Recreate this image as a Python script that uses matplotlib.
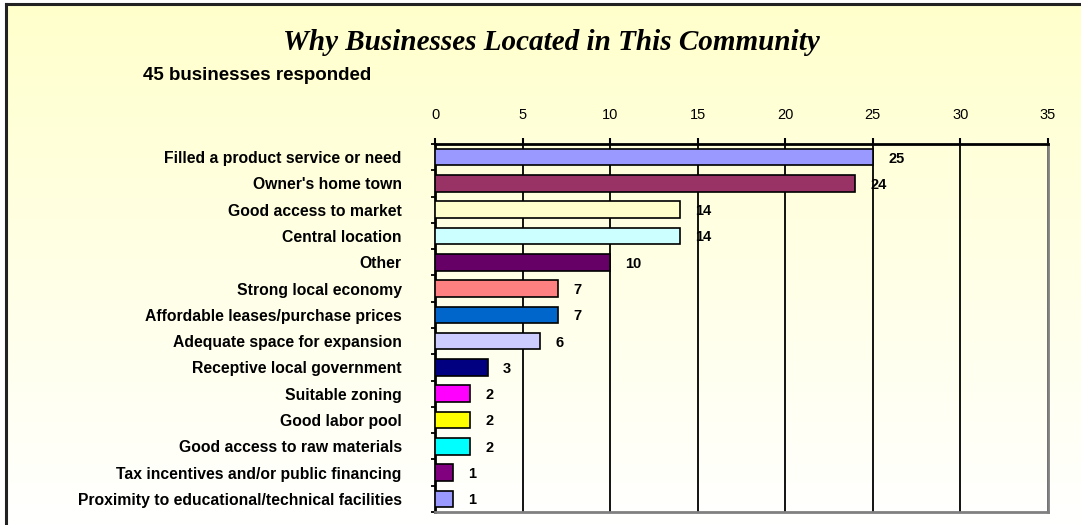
import matplotlib.pyplot as plt
import numpy as np

reasons = [
    "Filled a product service or need",
    "Owner's home town",
    "Good access to market",
    "Central location",
    "Other",
    "Strong local economy",
    "Affordable leases/purchase prices",
    "Adequate space for expansion",
    "Receptive local government",
    "Suitable zoning",
    "Good labor pool",
    "Good access to raw materials",
    "Tax incentives and/or public financing",
    "Proximity to educational/technical facilities",
]
counts = [25, 24, 14, 14, 10, 7, 7, 6, 3, 2, 2, 2, 1, 1]
colors = ["#9999FF", "#993366", "#FFFFCC", "#CCFFFF", "#660066", "#FF8080",
          "#0066CC", "#CCCCFF", "#000080", "#FF00FF", "#FFFF00", "#00FFFF",
          "#800080", "#9999FF"]
xticks = [0, 5, 10, 15, 20, 25, 30, 35]

W, H = 1081, 525
fig = plt.figure(figsize=(W / 100, H / 100), dpi=100)
fig.patch.set_facecolor("white")

# background panel: yellow fading to white, with a dark frame on top/left
bg = fig.add_axes([6 / W, 0, 1 - 6 / W, 1 - 4 / H], zorder=0)
grad = np.linspace(0, 1, 256).reshape(-1, 1)
top = np.array([1.0, 1.0, 0.8])
bot = np.array([1.0, 1.0, 1.0])
img = top + (bot - top) * grad[..., None]
bg.imshow(img, aspect="auto", extent=[0, 1, 0, 1])
bg.set_xlim(0, 1)
bg.set_ylim(0, 1)
bg.axis("off")
bg.plot([0, 0], [0, 1], color="#222222", lw=2.2, clip_on=False)
bg.plot([0, 1], [1, 1], color="#222222", lw=2.2, clip_on=False)

left, right, top_px, bottom_px = 435, 1048, 144, 512
ax = fig.add_axes([left / W, 1 - bottom_px / H, (right - left) / W,
                   (bottom_px - top_px) / H], zorder=1)
ax.patch.set_alpha(0)

y = np.arange(len(reasons))
ax.barh(y, counts, height=0.63, color=colors, edgecolor="black",
        linewidth=1.2, zorder=3)
for yi, v in zip(y, counts):
    ax.annotate(str(v), xy=(v, yi), xytext=(11, -1), textcoords="offset points",
                ha="left", va="center", fontsize=10.5, fontweight="bold",
                family="Liberation Sans")

ax.set_xlim(0, 35)
ax.set_ylim(len(reasons) - 0.5, -0.5)
ax.set_xticks(xticks)
ax.xaxis.tick_top()
ax.tick_params(axis="x", direction="out", length=4, width=1.5, pad=12,
               labelsize=10.5)
for lbl in ax.get_xticklabels():
    lbl.set_family("Liberation Sans")
ax.grid(axis="x", color="black", lw=1.3, zorder=1)

ax.set_yticks(y)
ax.set_yticklabels(reasons, fontsize=11.3, fontweight="bold",
                   family="Liberation Sans")
ax.set_yticks(np.arange(len(reasons) + 1) - 0.5, minor=True)
ax.tick_params(axis="y", which="major", length=0, pad=24)
ax.tick_params(axis="y", which="minor", length=3, width=1.3, direction="out")

ax.spines["top"].set_linewidth(2)
ax.spines["top"].set_color("black")
ax.spines["left"].set_linewidth(2)
ax.spines["left"].set_color("black")
ax.spines["bottom"].set_color("#808080")
ax.spines["bottom"].set_linewidth(2)
ax.spines["right"].set_color("#808080")
ax.spines["right"].set_linewidth(2)

fig.text(551 / W, 1 - 42 / H, "Why Businesses Located in This Community",
         ha="center", va="center", fontsize=21, fontweight="bold",
         style="italic", family="Liberation Serif")
fig.text(143 / W, 1 - 76 / H, "45 businesses responded", ha="left",
         va="center", fontsize=13.5, fontweight="bold", family="Liberation Sans")

fig.savefig("out.png", dpi=100)
